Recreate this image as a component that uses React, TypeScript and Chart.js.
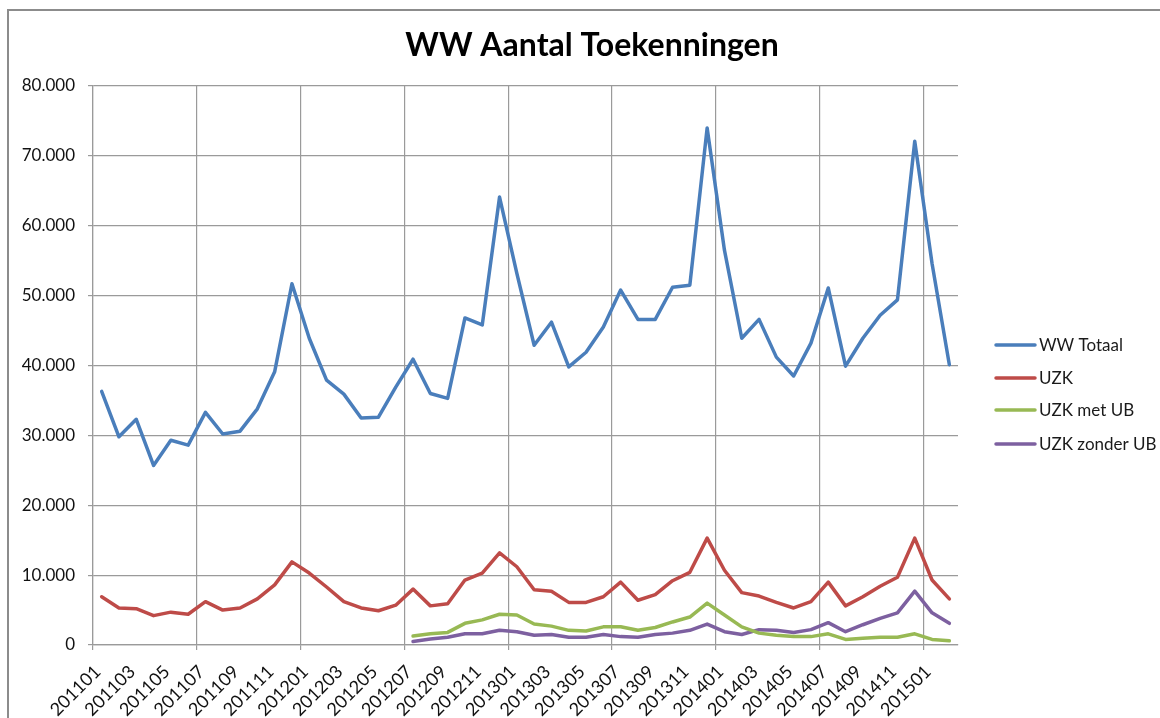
import React, { useEffect, useRef } from 'react';
import { Chart, registerables } from 'chart.js';

Chart.register(...registerables);

const FONT = 'Lato, "Open Sans", "DejaVu Sans", sans-serif';

const months: string[] = [
  '201101', '201102', '201103', '201104', '201105', '201106', '201107', '201108', '201109', '201110', '201111', '201112',
  '201201', '201202', '201203', '201204', '201205', '201206', '201207', '201208', '201209', '201210', '201211', '201212',
  '201301', '201302', '201303', '201304', '201305', '201306', '201307', '201308', '201309', '201310', '201311', '201312',
  '201401', '201402', '201403', '201404', '201405', '201406', '201407', '201408', '201409', '201410', '201411', '201412',
  '201501', '201502',
];

const wwTotaal: number[] = [
  36300, 29800, 32300, 25700, 29300, 28600, 33300, 30200, 30600, 33800, 39100, 51700,
  43900, 37900, 35900, 32500, 32600, 36900, 40900, 36000, 35300, 46800, 45800, 64100,
  53200, 42900, 46200, 39800, 41900, 45500, 50800, 46600, 46600, 51200, 51500, 74000,
  56500, 43900, 46600, 41200, 38500, 43200, 51100, 39900, 43900, 47200, 49400, 72100,
  54600, 40100,
];

const uzk: number[] = [
  6900, 5300, 5200, 4200, 4700, 4400, 6200, 5000, 5300, 6600, 8600, 11900,
  10300, 8300, 6200, 5300, 4900, 5700, 8000, 5600, 5900, 9300, 10300, 13200,
  11200, 7900, 7700, 6100, 6100, 6900, 9000, 6400, 7200, 9200, 10400, 15300,
  10700, 7500, 7000, 6100, 5300, 6200, 9000, 5600, 6900, 8400, 9700, 15300,
  9300, 6600,
];

const uzkMetUb: (number | null)[] = [
  null, null, null, null, null, null, null, null, null, null, null, null,
  null, null, null, null, null, null, 1300, 1600, 1800, 3100, 3600, 4400,
  4300, 3000, 2700, 2100, 2000, 2600, 2600, 2100, 2500, 3300, 4000, 6000,
  4300, 2600, 1700, 1400, 1200, 1200, 1600, 800, 950, 1100, 1100, 1600,
  800, 600,
];

const uzkZonderUb: (number | null)[] = [
  null, null, null, null, null, null, null, null, null, null, null, null,
  null, null, null, null, null, null, 500, 850, 1100, 1600, 1600, 2100,
  1900, 1400, 1500, 1100, 1100, 1500, 1200, 1100, 1500, 1700, 2100, 3000,
  1900, 1500, 2200, 2100, 1800, 2200, 3200, 1900, 2900, 3800, 4600, 7700,
  4600, 3100,
];

const seriesNames: string[] = ['WW Totaal', 'UZK', 'UZK met UB', 'UZK zonder UB'];
const seriesColors: string[] = ['#4A7EBB', '#BE4B48', '#98B954', '#7D60A0'];
const titleText = 'WW Aantal Toekenningen';

const fmt = (v: number) => {
  if (v === 0) return '0';
  return String(Math.round(v)).replace(/\B(?=(\d{3})+(?!\d))/g, '.');
};

const overlayPlugin = {
  id: 'overlay',
  afterDraw(chart: any) {
    const ctx = chart.ctx as CanvasRenderingContext2D;
    ctx.save();
    // title
    ctx.fillStyle = '#000';
    ctx.font = `bold 32px ${FONT}`;
    ctx.textAlign = 'center';
    ctx.textBaseline = 'alphabetic';
    ctx.fillText(titleText, 592, 56);
    // legend
    const rows = [345, 378, 410, 444];
    ctx.font = `17px ${FONT}`;
    ctx.textAlign = 'left';
    ctx.textBaseline = 'middle';
    chart.data.datasets.forEach((ds: any, i: number) => {
      const y = rows[i];
      ctx.strokeStyle = ds.borderColor;
      ctx.lineWidth = 3.5;
      ctx.lineCap = 'round';
      ctx.beginPath();
      ctx.moveTo(996, y);
      ctx.lineTo(1035, y);
      ctx.stroke();
      ctx.fillStyle = '#1a1a1a';
      ctx.fillText(ds.label, 1039, y + 1);
    });
    ctx.restore();
  },
};

export default function App() {
  const ref = useRef<HTMLCanvasElement | null>(null);
  useEffect(() => {
    if (!ref.current) return;
    const series = [wwTotaal, uzk, uzkMetUb, uzkZonderUb];
    const chart = new Chart(ref.current, {
      type: 'line',
      data: {
        labels: months,
        datasets: series.map((d, i) => ({
          label: seriesNames[i],
          data: d,
          borderColor: seriesColors[i],
          backgroundColor: seriesColors[i],
          borderWidth: 3.5,
          pointRadius: 0,
          tension: 0,
          spanGaps: false,
          borderJoinStyle: 'round' as const,
          borderCapStyle: 'round' as const,
        })),
      },
      options: {
        animation: false,
        responsive: true,
        maintainAspectRatio: false,
        layout: { padding: { top: 86, right: 202, bottom: 0, left: 0 } },
        plugins: {
          legend: { display: false },
          title: { display: false },
          tooltip: { enabled: false },
        },
        scales: {
          x: {
            offset: true,
            grid: {
              offset: true,
              color: (c: any) => (c.index % 6 === 0 && c.index < months.length ? '#9a9a9a' : 'rgba(0,0,0,0)'),
              tickColor: (c: any) => (c.index % 6 === 0 && c.index < months.length ? '#9a9a9a' : 'rgba(0,0,0,0)'),
              tickLength: 5,
              lineWidth: 1.2,
            },
            border: { display: true, color: '#9a9a9a', width: 1.2 },
            ticks: {
              autoSkip: false,
              minRotation: 45,
              maxRotation: 45,
              padding: 11,
              labelOffset: -4,
              color: '#111',
              font: { family: FONT, size: 18 },
              callback: (_v: any, i: number) => (i % 2 === 0 ? months[i] : ''),
            },
            afterFit: (s: any) => {
              s.height = 73;
            },
          },
          y: {
            min: 0,
            max: 80000,
            ticks: {
              stepSize: 10000,
              padding: 13,
              color: '#111',
              font: { family: FONT, size: 17 },
              callback: (v: any) => fmt(Number(v)),
            },
            grid: { color: '#9a9a9a', tickColor: '#9a9a9a', tickLength: 5, lineWidth: 1.2 },
            border: { display: true, color: '#9a9a9a', width: 1.2 },
            afterFit: (s: any) => {
              s.width = 93;
            },
          },
        },
      },
      plugins: [overlayPlugin],
    });
    return () => chart.destroy();
  }, []);

  return (
    <div style={{ position: 'fixed', left: 0, top: 0, width: 1160, height: 718, overflow: 'hidden', background: '#fff' }}>
      <div style={{ position: 'absolute', left: 0, top: 0, width: 1160, height: 718 }}>
        <canvas ref={ref} />
      </div>
      <div
        style={{
          position: 'absolute',
          left: 7,
          top: 9,
          width: 1200,
          height: 760,
          border: '2px solid #8c8c8c',
          pointerEvents: 'none',
        }}
      />
    </div>
  );
}
